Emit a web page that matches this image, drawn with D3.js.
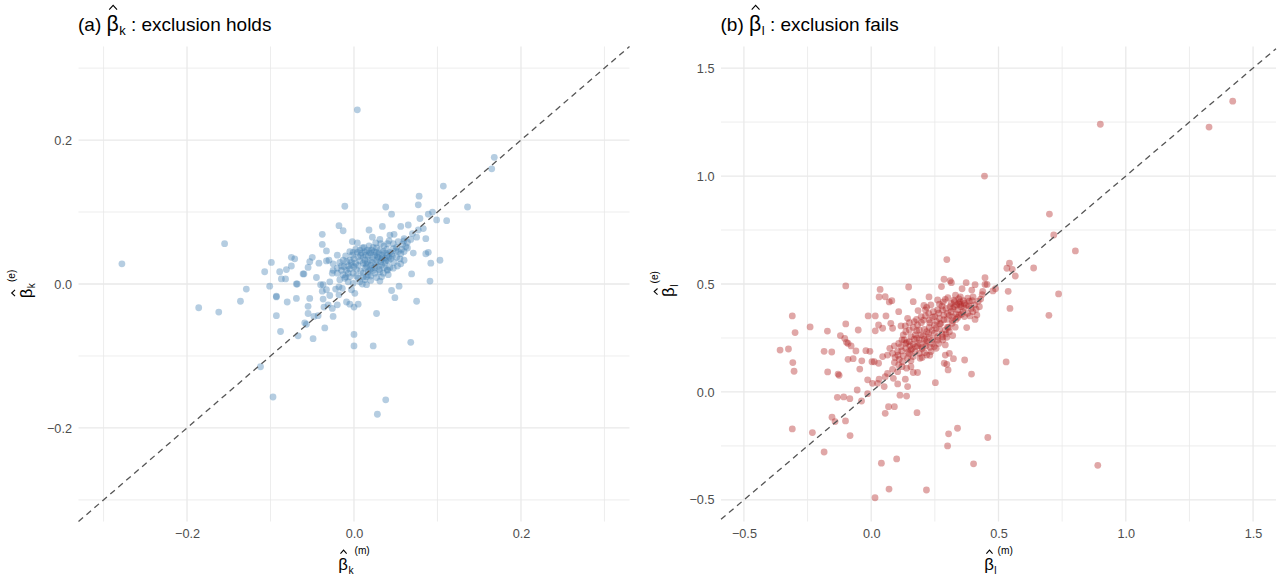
<!DOCTYPE html>
<html>
<head>
<meta charset="utf-8">
<script src="https://cdn.jsdelivr.net/npm/d3@7"></script>
<style>
body { margin: 0; background: #fff; }
svg text { font-family: "Liberation Sans", Arial, sans-serif; }
</style>
</head>
<body>
<svg id="chart" width="1283" height="579"></svg>
<script>
// (beta_k^(m), beta_k^(e)) pairs
var betaK = [
  [0.107,0.136],[0.078,0.122],[0.077,0.110],[0.038,0.107],[0.045,0.097],[-0.011,0.108],[0.089,0.097],[0.094,0.100],[0.079,0.091],[0.099,0.089],
  [0.111,0.088],[0.065,0.082],[0.056,0.080],[0.034,0.080],[0.018,0.075],[-0.018,0.081],[-0.013,0.074],[-0.038,0.069],[0.077,0.075],[0.083,0.077],
  [0.075,0.065],[0.086,0.063],[0.060,0.063],[0.060,0.060],[0.048,0.069],[0.043,0.068],[0.022,0.065],[0.031,0.062],[0.042,0.060],[-0.002,0.059],
  [0.004,0.057],[-0.038,0.055],[-0.033,0.046],
  [-0.005,0.045],[-0.001,0.044],[0.007,0.047],[0.013,0.045],[0.018,0.044],[0.023,0.051],[0.027,0.050],[0.031,0.047],[0.036,0.053],[0.039,0.048],
  [0.047,0.049],[0.051,0.051],[0.046,0.039],[0.042,0.037],[0.037,0.036],[0.033,0.034],[0.027,0.033],[0.022,0.037],[0.017,0.039],[0.011,0.037],
  [0.005,0.038],[0.000,0.035],[-0.005,0.033],[-0.009,0.031],[-0.013,0.033],[-0.017,0.030],[-0.020,0.022],[-0.025,0.019],[-0.026,0.015],[-0.020,0.015],
  [-0.015,0.019],[-0.009,0.019],[-0.005,0.021],[0.000,0.024],[0.005,0.026],[0.011,0.029],[0.016,0.030],[0.020,0.026],[0.025,0.023],[0.029,0.025],
  [0.033,0.026],[0.037,0.029],[0.041,0.032],[0.023,0.019],[0.017,0.017],[0.011,0.015],[0.003,0.011],[-0.005,0.010],[-0.011,0.008],[-0.017,0.006],
  [-0.007,0.003],[-0.001,0.001],[0.007,0.003],[0.013,0.006],[0.020,0.011],[0.027,0.009],[0.033,0.010],[0.040,0.019],[0.043,0.023],[0.015,-0.001],
  [-0.018,-0.004],[-0.022,-0.007],[-0.014,-0.006],[-0.029,0.003],[-0.037,-0.001],[-0.033,-0.008],[-0.003,-0.008],[0.001,-0.013],
  [0.062,0.052],[0.064,0.050],[0.056,0.042],[0.060,0.033],[0.071,0.043],[0.086,0.042],[0.089,0.044],[0.056,0.028],[0.040,0.020],[0.069,0.014],
  [0.103,0.033],[0.092,0.029],[0.091,0.004],[0.054,-0.003],[0.045,-0.009],[0.049,-0.019],[0.075,-0.024],[0.027,-0.041],
  [-0.040,-0.001],[-0.038,-0.010],[-0.037,-0.021],[-0.029,-0.016],[-0.018,-0.015],[-0.020,-0.029],[-0.026,-0.034],[-0.036,-0.032],[-0.031,-0.029],
  [-0.009,-0.025],[-0.005,-0.028],[0.005,-0.028],[0.000,-0.032],[-0.025,-0.045],[-0.035,-0.061],[-0.043,-0.044],[-0.048,-0.045],[-0.055,-0.041],
  [-0.055,-0.031],[-0.059,-0.054],[-0.057,-0.056],[-0.049,-0.076],[0.000,-0.070],[-0.053,-0.020],[-0.069,-0.020],[-0.080,-0.025],[-0.093,-0.044],
  [-0.088,-0.066],[-0.067,-0.072],
  [-0.107,0.017],[-0.099,0.030],[-0.089,0.017],[-0.081,0.020],[-0.087,0.007],[-0.082,0.007],[-0.075,0.025],[-0.075,0.037],[-0.071,0.035],
  [-0.061,0.014],[-0.060,0.014],[-0.050,0.037],[-0.053,0.031],[-0.055,0.023],[-0.045,0.009],[-0.042,0.029],[-0.033,0.032],[-0.030,0.033],
  [-0.069,0.000],[-0.068,0.000],[-0.101,-0.003],[-0.093,-0.017],[-0.093,-0.018],
  [0.009,0.043],[0.014,0.040],[0.020,0.043],[0.025,0.040],[0.030,0.042],[0.034,0.040],[0.038,0.043],[0.043,0.044],[0.029,0.037],[0.019,0.033],
  [0.013,0.033],[0.007,0.032],[0.002,0.029],[-0.003,0.026],[-0.007,0.025],[-0.012,0.024],[0.015,0.024],[0.021,0.022],[0.026,0.029],[0.032,0.031],
  [0.036,0.023],[0.017,0.013],[0.011,0.010],[0.005,0.008],[-0.001,0.015],[-0.007,0.015],[-0.013,0.013],[0.031,0.017],[0.035,0.015],[0.041,0.013],
  [0.051,0.037],[0.053,0.045],[0.057,0.048],[0.027,0.044],[0.021,0.047],[0.012,0.051],[0.004,0.044],[-0.002,0.040],[-0.010,0.039],[0.018,0.053],
  [0.032,0.056],[0.040,0.056],[0.047,0.056],[0.053,0.059],
  [0.010,0.050],[0.016,0.047],[0.024,0.045],[0.028,0.038],[0.035,0.045],[0.040,0.040],[0.044,0.035],[0.048,0.030],[0.052,0.025],[0.030,0.020],
  [0.025,0.015],[0.019,0.020],[0.013,0.022],[0.008,0.018],[0.003,0.020],[-0.003,0.030],[0.008,0.040],[0.014,0.028],[0.022,0.030],[0.034,0.036],
  [0.038,0.032],[0.045,0.042],[0.050,0.046],[0.058,0.055],[0.064,0.058],[0.068,0.062],[0.055,0.035],[0.047,0.022],[0.020,0.005],[0.010,0.000],
  [-0.010,0.010],[-0.015,0.025],[0.002,0.048],[0.026,0.057],[0.070,0.070],[0.015,0.010],[0.031,0.004],[-0.020,0.040],[-0.025,0.028],[0.060,0.045],
  [-0.155,0.056],[-0.129,-0.007],[-0.136,-0.024],[-0.186,-0.033],[-0.162,-0.039],[-0.112,-0.115],[0.136,0.107],[-0.278,0.028],[-0.097,-0.157],
  [0.004,0.242],[0.028,-0.181],[0.038,-0.161],[0.168,0.176],[0.165,0.160],[0.068,-0.081],[0.023,-0.086],[0.000,-0.086]
];

// (beta_l^(m), beta_l^(e)) pairs
var betaL = [
  [0.297,0.613],[0.543,0.596],[0.533,0.573],[0.554,0.568],[0.566,0.537],[0.447,0.529],[0.286,0.522],[0.310,0.515],[0.315,0.506],[-0.100,0.491],
  [0.147,0.486],[0.276,0.488],[0.373,0.506],[0.408,0.497],[0.447,0.498],[0.455,0.498],[0.357,0.478],[0.395,0.472],[0.438,0.466],[0.436,0.451],
  [0.478,0.468],[0.488,0.478],[0.538,0.466],[0.545,0.387],[0.035,0.475],[0.031,0.440],[0.055,0.441],[0.071,0.417],[0.081,0.423],[0.165,0.418],
  [0.227,0.440],[0.234,0.403],[0.261,0.426],[0.268,0.407],[0.283,0.417],[0.291,0.429],[0.301,0.437],[0.314,0.410],[0.331,0.448],[0.344,0.432],
  [0.349,0.417],[0.327,0.418],[0.336,0.403],[0.320,0.387],[0.340,0.380],[0.353,0.395],[0.366,0.410],[0.379,0.434],[0.396,0.423],[0.392,0.387],
  [0.412,0.383],[0.399,0.372],[0.379,0.364],[0.360,0.372],[0.373,0.403],[0.406,0.403],[0.425,0.395],[0.415,0.356],[0.408,0.336],[0.375,0.298],
  [0.320,0.261],[0.218,0.392],[0.213,0.380],[0.184,0.377],[0.207,0.401],[0.108,0.372],[-0.012,0.352],[0.016,0.352],[0.058,0.352],[-0.100,0.315],
  [-0.051,0.287],[0.016,0.283],[0.029,0.310],[0.045,0.295],[0.077,0.318],[0.084,0.295],[0.117,0.306],[0.143,0.341],[0.150,0.321],[0.169,0.326],
  [0.178,0.336],[0.197,0.321],[0.205,0.333],
  [0.228,0.333],[0.241,0.346],[0.257,0.326],[0.268,0.341],[0.274,0.318],[0.248,0.310],[0.228,0.299],[0.218,0.279],[0.209,0.290],[0.189,0.287],
  [0.173,0.264],[0.156,0.256],[0.136,0.279],[0.126,0.264],[0.130,0.241],[0.150,0.233],[0.165,0.222],[0.182,0.213],[0.199,0.207],[0.215,0.213],
  [0.231,0.207],[0.248,0.210],[0.265,0.225],[0.281,0.241],[0.297,0.253],[0.307,0.279],[0.291,0.287],[0.268,0.290],[0.248,0.272],[0.228,0.253],
  [0.209,0.244],[0.189,0.241],[0.173,0.187],[0.156,0.194],[0.136,0.202],[0.117,0.210],[0.104,0.187],[0.084,0.179],[0.094,0.160],[0.110,0.151],
  [0.126,0.167],[0.150,0.176],[0.165,0.164],[0.189,0.179],[0.209,0.182],[0.235,0.187],[0.255,0.202],[0.291,0.218],[0.304,0.299],[0.318,0.318],
  [0.333,0.336],[0.297,0.336],[0.285,0.356],[0.307,0.355],
  [0.291,0.171],[0.307,0.179],[0.323,0.154],[0.287,0.133],[0.297,0.128],[0.302,0.102],[0.367,0.148],[0.394,0.083],[0.530,0.139],[0.252,0.043],
  [0.064,0.171],[0.045,0.164],[0.029,0.133],[0.064,0.086],[0.084,0.105],[0.104,0.094],[0.121,0.117],[0.139,0.110],[0.156,0.117],[0.165,0.090],
  [0.182,0.090],[0.134,0.059],[0.143,0.025],[0.113,-0.015],[0.055,0.071],[0.031,0.059],[-0.014,0.056],[0.005,0.040],[0.025,0.040],[0.051,0.025],
  [0.068,-0.068],[0.091,-0.068],[0.139,-0.019],[0.104,0.037],[0.087,0.063],
  [-0.310,0.352],[-0.299,0.275],[-0.240,0.301],[-0.172,0.282],[-0.358,0.194],[-0.325,0.199],[-0.308,0.136],[-0.303,0.096],[-0.185,0.188],[-0.155,0.185],
  [-0.171,0.093],[-0.130,0.083],[-0.126,0.077],[-0.121,0.261],[-0.104,0.248],[-0.097,0.230],[-0.091,0.225],[-0.079,0.213],[-0.060,0.190],[-0.091,0.151],
  [-0.071,0.154],[-0.037,0.144],[-0.045,0.106],[-0.021,0.191],[-0.005,0.188],[0.003,0.140],[0.012,0.140],[-0.055,0.009],[-0.014,-0.008],[-0.038,-0.042],
  [-0.133,-0.025],[-0.108,-0.023],[-0.084,-0.031],[-0.154,-0.117],[-0.142,-0.137],[-0.101,-0.134],[-0.310,-0.171],[-0.231,-0.188],[-0.083,-0.202],[-0.185,-0.278],
  [0.802,0.653],[0.638,0.574],[0.736,0.454],[0.698,0.355],[0.458,-0.211],[0.339,-0.168],[0.304,-0.194],[0.180,-0.096],[0.055,-0.099],
  [0.015,-0.490],[0.040,-0.330],[0.070,-0.450],[0.100,-0.310],[0.217,-0.454],[0.300,-0.250],[0.402,-0.333],[0.890,-0.340],[0.717,0.727],[0.700,0.824],
  [0.445,1.000],[0.900,1.240],[1.327,1.227],[1.420,1.347],
  [0.327,0.395],[0.344,0.410],[0.362,0.423],[0.383,0.398],[0.333,0.361],[0.314,0.372],[0.294,0.387],[0.278,0.398],[0.261,0.380],[0.244,0.372],
  [0.226,0.364],[0.213,0.352],[0.196,0.349],[0.182,0.310],[0.165,0.299],[0.150,0.287],[0.134,0.306],[0.169,0.244],[0.152,0.213],[0.136,0.225],
  [0.121,0.241],[0.108,0.225],[0.091,0.213],[0.073,0.202],[0.178,0.284],[0.196,0.264],[0.218,0.238],[0.241,0.241],[0.261,0.256],[0.278,0.269],
  [0.294,0.269],[0.320,0.346],[0.346,0.356],[0.366,0.349],[0.388,0.352],[0.143,0.156],[0.123,0.140],[0.108,0.125],[0.091,0.136],[0.156,0.145],
  [0.192,0.156],[0.218,0.171],
  [0.310,0.395],[0.325,0.425],[0.350,0.440],[0.365,0.390],[0.300,0.365],[0.285,0.335],[0.270,0.315],[0.255,0.295],[0.240,0.285],[0.225,0.270],
  [0.205,0.260],[0.190,0.225],[0.175,0.210],[0.160,0.200],[0.145,0.185],[0.200,0.200],[0.215,0.230],[0.240,0.225],[0.260,0.240],[0.280,0.255],
  [0.300,0.300],[0.320,0.330],[0.340,0.345],[0.355,0.360],[0.385,0.420],[0.400,0.440],[0.420,0.420],[0.430,0.430],[0.250,0.350],[0.265,0.365],
  [0.180,0.250],[0.120,0.190],[0.105,0.170],[0.140,0.230],[0.230,0.320],[0.330,0.300],[0.280,0.380],[0.350,0.405],[0.200,0.160],[0.230,0.170]
];

var majorA = [-0.2, 0, 0.2];
var minorA = [-0.3, -0.1, 0.1, 0.3];
var majorB = [-0.5, 0, 0.5, 1, 1.5];
var minorB = [-0.25, 0.25, 0.75, 1.25];

var svg = d3.select('#chart');
var fmt = d3.format('.1f');
var top0 = 46.5, bottom0 = 521.5;

// beta with a hat, a subscript and an optional raised superscript, plotmath style
function mathLabel(parent, o) {
    var g = parent.append('g');
    var s = o.size, bs = s * 1.12, cx = 0;
    function piece(str, x, y, fs) {
        var t = g.append('text').attr('x', x).attr('y', y)
            .style('font-size', fs + 'px').style('white-space', 'pre').attr('fill', '#000').text(str);
        return t.node().getComputedTextLength();
    }
    if (o.prefix) cx += piece(o.prefix, cx, 0, s);
    var bw = piece('\u03b2', cx, 0, bs);
    var hx = cx + bw / 2 + 0.5, hw = bw * 0.32, hb = -bs * 0.98;
    g.append('path')
        .attr('d', 'M' + (hx - hw) + ',' + hb + 'L' + hx + ',' + (hb - bs * 0.2) + 'L' + (hx + hw) + ',' + hb)
        .attr('fill', 'none').attr('stroke', '#000').attr('stroke-width', 1.1);
    cx += bw + 0.5;
    cx += piece(o.sub, cx, s * 0.25, s * 0.68);
    if (o.sup) cx += 1 + piece(o.sup, cx + 1, -bs * 0.98, s * 0.68);
    if (o.suffix) cx += piece(o.suffix, cx, 0, s);
    return { g: g, width: cx };
}

function drawPanel(cfg) {
    var x = d3.scaleLinear().domain(cfg.xDomain).range([cfg.left, cfg.right]);
    var y = d3.scaleLinear().domain(cfg.yDomain).range([bottom0, top0]);
    var g = svg.append('g');

    // grid, minor lines thinner
    g.selectAll('.vminor').data(cfg.minor).enter().append('line')
        .attr('x1', function(d) { return x(d); }).attr('x2', function(d) { return x(d); })
        .attr('y1', top0).attr('y2', bottom0)
        .attr('stroke', '#e9e9e9').attr('stroke-width', 0.8);
    g.selectAll('.hminor').data(cfg.minor).enter().append('line')
        .attr('y1', function(d) { return y(d); }).attr('y2', function(d) { return y(d); })
        .attr('x1', cfg.left).attr('x2', cfg.right)
        .attr('stroke', '#e9e9e9').attr('stroke-width', 0.8);
    g.selectAll('.vmajor').data(cfg.major).enter().append('line')
        .attr('x1', function(d) { return x(d); }).attr('x2', function(d) { return x(d); })
        .attr('y1', top0).attr('y2', bottom0)
        .attr('stroke', '#e9e9e9').attr('stroke-width', 1.3);
    g.selectAll('.hmajor').data(cfg.major).enter().append('line')
        .attr('y1', function(d) { return y(d); }).attr('y2', function(d) { return y(d); })
        .attr('x1', cfg.left).attr('x2', cfg.right)
        .attr('stroke', '#e9e9e9').attr('stroke-width', 1.3);

    // points
    g.selectAll('.pt').data(cfg.data).enter().append('circle')
        .attr('cx', function(d) { return x(d[0]); })
        .attr('cy', function(d) { return y(d[1]); })
        .attr('r', 3.4)
        .attr('fill', cfg.color).attr('fill-opacity', 0.4);

    // 45 degree reference line
    var lo = Math.max(cfg.xDomain[0], cfg.yDomain[0]), hi = Math.min(cfg.xDomain[1], cfg.yDomain[1]);
    g.append('line')
        .attr('x1', x(lo)).attr('y1', y(lo)).attr('x2', x(hi)).attr('y2', y(hi))
        .attr('stroke', '#555').attr('stroke-width', 1.3).attr('stroke-dasharray', '6,4.5');

    // axes, labels only
    var xa = g.append('g').attr('transform', 'translate(0,' + bottom0 + ')')
        .call(d3.axisBottom(x).tickValues(cfg.major).tickFormat(fmt).tickSize(0).tickPadding(7.5));
    var ya = g.append('g').attr('transform', 'translate(' + cfg.left + ',0)')
        .call(d3.axisLeft(y).tickValues(cfg.major).tickFormat(fmt).tickSize(0).tickPadding(6.5));
    [xa, ya].forEach(function(a) {
        a.select('.domain').remove();
        a.selectAll('text').attr('fill', '#4d4d4d').style('font-size', '12.7px')
            .style('font-family', '"Liberation Sans", Arial, sans-serif');
    });

    // axis titles
    var xt = mathLabel(g, { sub: cfg.sub, sup: '(m)', size: 15 });
    xt.g.attr('transform', 'translate(' + ((cfg.left + cfg.right) / 2 - xt.width / 2) + ',570)');
    var yHolder = g.append('g').attr('transform', 'translate(' + (cfg.left - 47) + ',' + ((top0 + bottom0) / 2) + ') rotate(-90)');
    var yt = mathLabel(yHolder, { sub: cfg.sub, sup: '(e)', size: 15 });
    yt.g.attr('transform', 'translate(' + (-yt.width / 2) + ',0)');

    // panel title
    var tt = mathLabel(g, { prefix: cfg.tag + ' ', sub: cfg.sub, suffix: ' : ' + cfg.caption, size: 19 });
    tt.g.attr('transform', 'translate(' + (cfg.left - 0.5) + ',30.5)');
}

drawPanel({ data: betaK, xDomain: [-0.33, 0.33], yDomain: [-0.33, 0.33], left: 78.5, right: 629.5,
    major: majorA, minor: minorA, color: '#4682B4', sub: 'k', tag: '(a)', caption: 'exclusion holds' });
drawPanel({ data: betaL, xDomain: [-0.59, 1.59], yDomain: [-0.6, 1.6], left: 721, right: 1276,
    major: majorB, minor: minorB, color: '#B22222', sub: 'l', tag: '(b)', caption: 'exclusion fails' });
</script>
</body>
</html>
